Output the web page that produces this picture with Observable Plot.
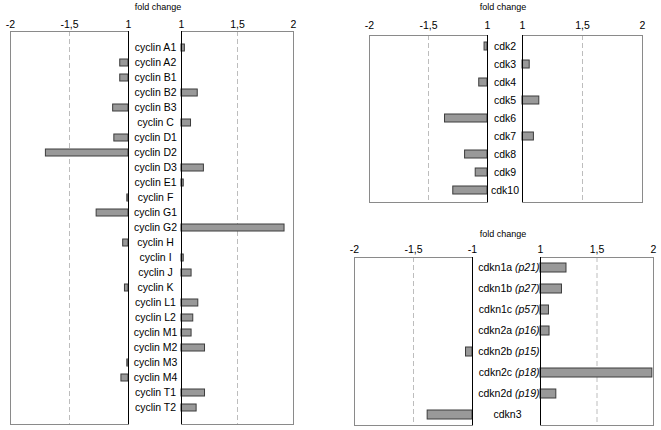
<!DOCTYPE html>
<html><head><meta charset="utf-8">
<script src="https://cdn.jsdelivr.net/npm/d3@7"></script>
<script src="https://cdn.jsdelivr.net/npm/@observablehq/plot@0.6"></script>
<style>
body{margin:0;background:#fff;}
#chart{position:relative;width:661px;height:430px;font-family:"Liberation Sans",Arial,sans-serif;overflow:hidden;}
#chart svg{position:absolute;left:0;top:0;}
.title{position:absolute;font-size:9px;line-height:9px;transform:translateX(-50%);white-space:nowrap;color:#000;}
</style></head><body><div id="chart"></div>
<script>
// ---- data ----
const cyclinNames = ["cyclin A1","cyclin A2","cyclin B1","cyclin B2","cyclin B3","cyclin C","cyclin D1","cyclin D2","cyclin D3","cyclin E1","cyclin F","cyclin G1","cyclin G2","cyclin H","cyclin I","cyclin J","cyclin K","cyclin L1","cyclin L2","cyclin M1","cyclin M2","cyclin M3","cyclin M4","cyclin T1","cyclin T2"];
const cyclinValues = [1.03,-1.07,-1.07,1.145,-1.13,1.085,-1.12,-1.70,1.20,1.02,-1.01,-1.27,1.92,-1.045,1.02,1.09,-1.03,1.15,1.105,1.09,1.21,-1.01,-1.06,1.21,1.135];
const cdkNames = ["cdk2","cdk3","cdk4","cdk5","cdk6","cdk7","cdk8","cdk9","cdk10"];
const cdkValues = [-1.025,1.06,-1.07,1.14,-1.36,1.095,-1.19,-1.10,-1.29];
const cdknGenes = ["cdkn1a","cdkn1b","cdkn1c","cdkn2a","cdkn2b","cdkn2c","cdkn2d","cdkn3"];
const cdknAliases = ["(p21)","(p27)","(p57)","(p16)","(p15)","(p18)","(p19)",""];
const cdknValues = [1.23,1.19,1.075,1.08,-1.055,1.99,1.14,-1.38];
const leftTicks = [-2,-1.5,-1];
const rightTicks = [1,1.5,2];
const leftTickLabels = ["-2","-1,5","1"];
const leftTickLabelsCdkn = ["-2","-1,5","-1"];
const rightTickLabels = ["1","1,5","2"];
const axisTitle = "fold change";

const W = 661, H = 430;
const chart = document.getElementById("chart");

function half({side, names, labels, values, box, tickLabels, tickPad, textMarks}) {
  const [x0, x1, y0, y1] = box;
  const neg = side === "left";
  const ticks = neg ? leftTicks : rightTicks;
  const base = neg ? -1 : 1;
  const rows = names.map((n, i) => ({name: n, label: labels ? labels[i] : n, value: values[i]}));
  const bars = rows.filter(d => neg ? d.value < 0 : d.value > 0);
  const marks = [
    Plot.ruleX([ticks[1]], {stroke: "#bdbdbd", strokeDasharray: "5,3"}),
    Plot.barX(bars, {x1: base, x2: "value", y: "name", fill: "#999", stroke: "#3c3c3c", strokeWidth: 1}),
    Plot.frame({stroke: "#8a8a8a"}),
    Plot.ruleX([base], {stroke: "#000"}),
    Plot.axisX({anchor: "top", ticks, tickFormat: d => tickLabels[ticks.indexOf(d)], tickSize: 0, tickPadding: tickPad, fill: "#000"})
  ];
  if (textMarks) marks.push(...textMarks(rows, base));
  const svg = Plot.plot({
    width: W, height: H,
    marginLeft: x0, marginRight: W - x1, marginTop: y0, marginBottom: H - y1,
    x: {domain: neg ? [-2, -1] : [1, 2], axis: null, label: null},
    y: {domain: names, paddingInner: 0.55, paddingOuter: 0.275, axis: null, label: null},
    marks
  });
  svg.style.background = "none";
  svg.style.overflow = "visible";
  svg.style.fontFamily = '"Liberation Sans", Arial, sans-serif';
  svg.style.fontSize = "10.5px";
  svg.style.maxWidth = "none";
  chart.appendChild(svg);
  return svg;
}

function title(x, y) {
  const d = document.createElement("div");
  d.className = "title";
  d.textContent = axisTitle;
  d.style.left = x + "px";
  d.style.top = y + "px";
  chart.appendChild(d);
}

// Panel 1: cyclins
half({side: "left", names: cyclinNames, values: cyclinValues, box: [10, 128, 31, 424], tickLabels: leftTickLabels, tickPad: 4});
half({side: "right", names: cyclinNames, values: cyclinValues, box: [181, 293, 31, 424], tickLabels: rightTickLabels, tickPad: 4,
  textMarks: (rows, base) => [Plot.text(rows, {x: base, y: "name", text: "label", dx: -26, textAnchor: "middle", fill: "#000"})]});
title(158, 3);

// Panel 2: cdks
half({side: "left", names: cdkNames, values: cdkValues, box: [369, 487, 35, 202], tickLabels: leftTickLabels, tickPad: 7});
half({side: "right", names: cdkNames, values: cdkValues, box: [522, 642, 35, 202], tickLabels: rightTickLabels, tickPad: 7,
  textMarks: (rows, base) => [Plot.text(rows, {x: base, y: "name", text: "label", dx: -17.5, textAnchor: "middle", fill: "#000"})]});
title(503, 3);

// Panel 3: cdk inhibitors
const cdknLabels = cdknGenes.map((g, i) => cdknAliases[i] ? g + " " + cdknAliases[i] : g);
half({side: "left", names: cdknGenes, values: cdknValues, box: [354, 472, 257, 425], tickLabels: leftTickLabelsCdkn, tickPad: 5});
const s3 = half({side: "right", names: cdknGenes, labels: cdknLabels, values: cdknValues, box: [540, 653, 257, 425], tickLabels: rightTickLabels, tickPad: 5,
  textMarks: (rows, base) => [
    Plot.text(rows.filter(d => d.label !== d.name), {x: base, y: "name", text: "label", dx: -1, textAnchor: "end", fill: "#000"}),
    Plot.text(rows.filter(d => d.label === d.name), {x: base, y: "name", text: "label", dx: -33, textAnchor: "middle", fill: "#000"})
  ]});
// italicise the alias part of each label
s3.querySelectorAll("text").forEach(t => {
  const m = /^(\S+) (\(p\d+\))$/.exec(t.textContent);
  if (!m) return;
  while (t.firstChild) t.removeChild(t.firstChild);
  const ns = "http://www.w3.org/2000/svg";
  const a = document.createElementNS(ns, "tspan"); a.textContent = m[1] + " ";
  const b = document.createElementNS(ns, "tspan"); b.textContent = m[2]; b.setAttribute("font-style", "italic");
  t.appendChild(a); t.appendChild(b);
});
title(503, 230);
</script></body></html>
